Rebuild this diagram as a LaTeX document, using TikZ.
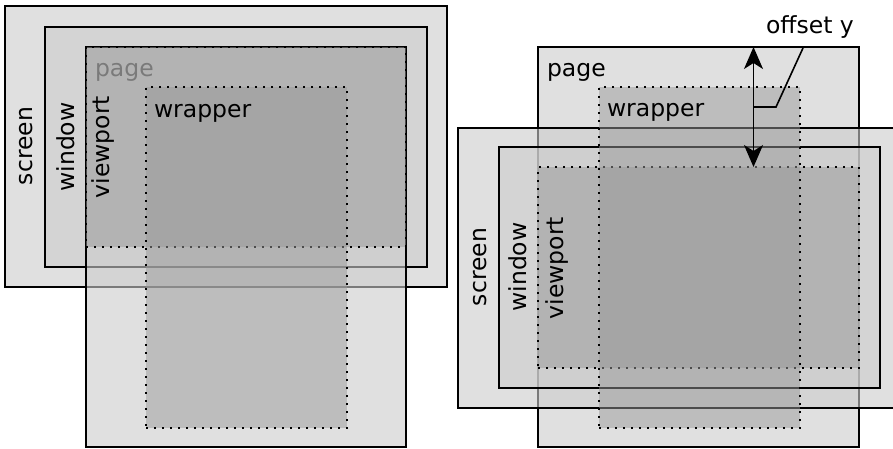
\documentclass[tikz,border=0pt]{standalone}
\usepackage{fontspec}
\setmainfont{DejaVu Sans}
\usetikzlibrary{arrows.meta}
\tikzset{
  box/.style={rectangle, inner sep=0pt, outer sep=0pt, anchor=north west, line width=1.6pt, draw=black},
  lightbox/.style={box, fill=black!20, fill opacity=0.6},
  darkbox/.style={box, line width=1.9pt, fill=black!40, fill opacity=0.5, dash pattern=on 1.9pt off 6.1pt},
  lbl/.style={inner sep=0pt, outer sep=0pt, text=black, font=\fontsize{23.5}{28}\selectfont},
  vlbl/.style={lbl, rotate=90, anchor=mid},
  hlbl/.style={lbl, anchor=base west},
  arr/.style={line width=1.6pt, {Stealth[length=22pt,width=19pt,inset=6pt]}-{Stealth[length=22pt,width=19pt,inset=6pt]}},
  lead/.style={line width=1.6pt}
}
\begin{document}
\begin{tikzpicture}[x=1pt,y=1pt]
\useasboundingbox (0,0) rectangle (893,-448);
\clip (0,0) rectangle (893,-448);
% ---------- left diagram ----------
\node[lightbox, minimum width=442pt, minimum height=281pt] (Lscreen) at (5,-6) {};
\node[vlbl] (LscreenT) at (30,-146) {screen};
\node[lightbox, minimum width=382pt, minimum height=240pt] (Lwindow) at (45,-27) {};
\node[vlbl] (LwindowT) at (71.5,-147) {window};
\node[lightbox, minimum width=320pt, minimum height=400pt] (Lpage) at (86,-47) {};
\node[darkbox, minimum width=320pt, minimum height=200pt] (Lview) at (86,-47) {};
\node[hlbl, text=black!52] (LpageT) at (95,-76) {page};
\node[vlbl] (LviewT) at (107,-147) {viewport};
\node[darkbox, minimum width=201pt, minimum height=341pt] (Lwrap) at (146,-87) {};
\node[hlbl] (LwrapT) at (154,-117) {wrapper};
% ---------- right diagram ----------
\node[lightbox, minimum width=321pt, minimum height=400pt] (Rpage) at (538,-47) {};
\node[hlbl] (RpageT) at (547,-76.5) {page};
\node[lightbox, minimum width=450pt, minimum height=280pt] (Rscreen) at (458,-128) {};
\node[vlbl] (RscreenT) at (483.5,-267) {screen};
\node[lightbox, minimum width=381pt, minimum height=241pt] (Rwindow) at (499,-147) {};
\node[vlbl] (RwindowT) at (523.5,-267) {window};
\node[darkbox, minimum width=321pt, minimum height=201pt] (Rview) at (538,-167) {};
\node[vlbl] (RviewT) at (561,-268) {viewport};
\node[darkbox, minimum width=201pt, minimum height=341pt] (Rwrap) at (599,-87) {};
\node[hlbl] (RwrapT) at (607,-116) {wrapper};
% offset arrow
\path (Rpage.north west) ++(215.5,0) coordinate (aTop);
\path (Rview.north west) ++(215.5,0) coordinate (aBot);
\draw[arr] (aTop) -- (aBot);
\node[hlbl] (offY) at (766,-33) {offset y};
\path (aTop) ++(0,-60) coordinate (ldA);
\path (offY.base west) ++(37,-15) coordinate (ldEnd);
\draw[lead] (ldA) -- ++(22.5,0) -- (ldEnd);
\end{tikzpicture}
\end{document}
